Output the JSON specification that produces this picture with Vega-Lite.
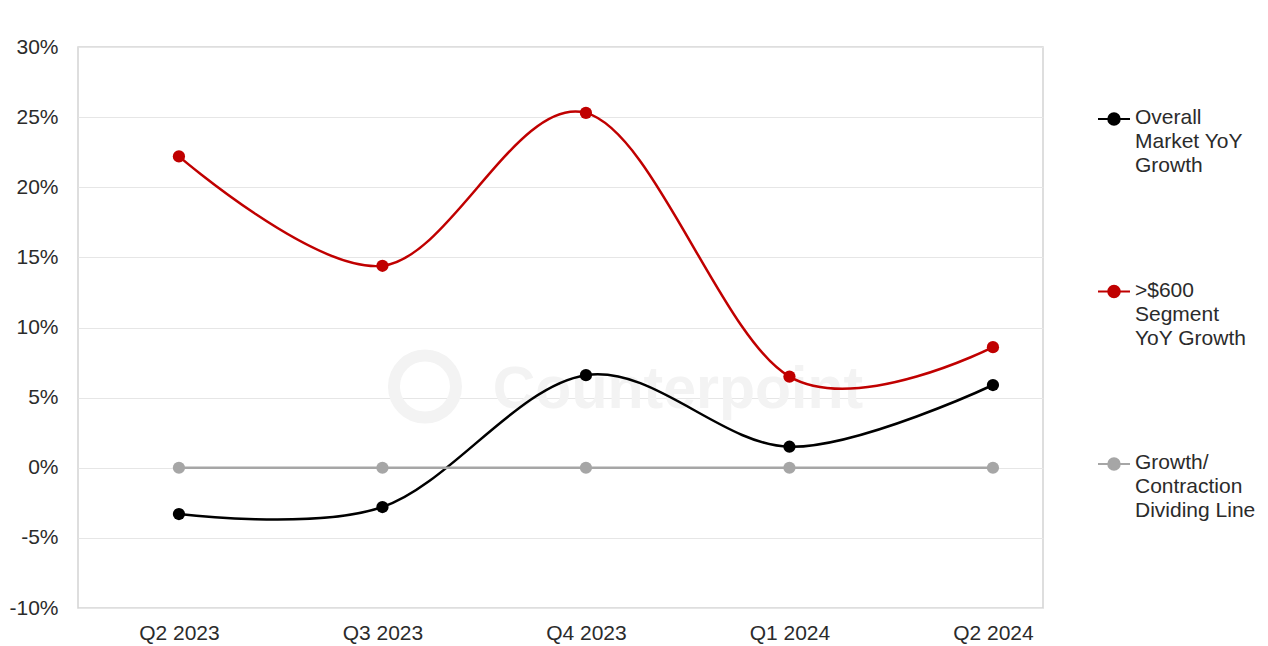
{
  "$schema": "https://vega.github.io/schema/vega-lite/v6.json",
  "width": 965,
  "height": 561,
  "autosize": "none",
  "padding": {"left": 78, "top": 47, "right": 225, "bottom": 38},
  "background": "white",
  "config": {
    "view": {"stroke": "#d4d4d4", "strokeWidth": 1.5},
    "font": "Liberation Sans"
  },
  "data": {
    "values": [
      {"series": "Overall Market YoY Growth", "quarter": 0, "value": -3.3},
      {"series": "Overall Market YoY Growth", "quarter": 1, "value": -2.8},
      {"series": "Overall Market YoY Growth", "quarter": 2, "value": 6.6},
      {"series": "Overall Market YoY Growth", "quarter": 3, "value": 1.5},
      {"series": "Overall Market YoY Growth", "quarter": 4, "value": 5.9},
      {"series": ">$600 Segment YoY Growth", "quarter": 0, "value": 22.2},
      {"series": ">$600 Segment YoY Growth", "quarter": 1, "value": 14.4},
      {"series": ">$600 Segment YoY Growth", "quarter": 2, "value": 25.3},
      {"series": ">$600 Segment YoY Growth", "quarter": 3, "value": 6.5},
      {"series": ">$600 Segment YoY Growth", "quarter": 4, "value": 8.6},
      {"series": "Growth/ Contraction Dividing Line", "quarter": 0, "value": 0},
      {"series": "Growth/ Contraction Dividing Line", "quarter": 1, "value": 0},
      {"series": "Growth/ Contraction Dividing Line", "quarter": 2, "value": 0},
      {"series": "Growth/ Contraction Dividing Line", "quarter": 3, "value": 0},
      {"series": "Growth/ Contraction Dividing Line", "quarter": 4, "value": 0}
    ]
  },
  "encoding": {
    "x": {
      "field": "quarter",
      "type": "quantitative",
      "scale": {"domain": [-0.496, 4.246], "nice": false, "zero": false},
      "axis": {
        "title": null,
        "values": [0, 1, 2, 3, 4],
        "labelExpr": "['Q2 2023', 'Q3 2023', 'Q4 2023', 'Q1 2024', 'Q2 2024'][datum.value]",
        "labelAngle": 0,
        "labelAlign": "center",
        "labelFlush": false,
        "labelOverlap": false,
        "domain": false,
        "ticks": false,
        "grid": false,
        "labelFontSize": 21,
        "labelColor": "#2b2b2b",
        "labelPadding": 14
      }
    },
    "y": {
      "field": "value",
      "type": "quantitative",
      "scale": {"domain": [-10, 30], "nice": false, "zero": false},
      "axis": {
        "title": null,
        "values": [-10, -5, 0, 5, 10, 15, 20, 25, 30],
        "labelExpr": "datum.value + '%'",
        "labelFlush": false,
        "labelOverlap": false,
        "domain": false,
        "ticks": false,
        "grid": true,
        "gridColor": "#e6e6e6",
        "gridWidth": 1.2,
        "labelFontSize": 21,
        "labelColor": "#2b2b2b",
        "labelPadding": 20
      }
    },
    "color": {
      "field": "series",
      "type": "nominal",
      "scale": {
        "domain": ["Overall Market YoY Growth", ">$600 Segment YoY Growth", "Growth/ Contraction Dividing Line"],
        "range": ["#000000", "#c00000", "#a6a6a6"]
      },
      "legend": {
        "title": null,
        "orient": "none",
        "legendX": 1019,
        "legendY": 55,
        "symbolType": "M-1,0L-0.36,0M0.36,0L1,0M-0.36,0A0.36,0.36,0,1,1,0.36,0A0.36,0.36,0,1,1,-0.36,0Z",
        "symbolSize": 1024,
        "symbolStrokeWidth": 2,
        "labelFontSize": 21,
        "labelColor": "#2b2b2b",
        "labelOffset": 4,
        "labelBaseline": "top",
        "labelLimit": 0,
        "rowPadding": 98.5,
        "labelExpr": "datum.label == 'Overall Market YoY Growth' ? ['Overall', 'Market YoY', 'Growth'] : datum.label == '>$600 Segment YoY Growth' ? ['>$600', 'Segment', 'YoY Growth'] : ['Growth/', 'Contraction', 'Dividing Line']",
        "encode": {
          "symbols": {
            "update": {
              "fill": {"scale": "color", "field": "value"},
              "stroke": {"scale": "color", "field": "value"},
              "opacity": {"value": 1}
            }
          },
          "labels": {
            "update": {"dy": {"value": -12}, "lineHeight": {"value": 24}}
          }
        }
      }
    }
  },
  "layer": [
    {
      "data": {"values": [{"wx": 1.209, "wy": 5.79}]},
      "mark": {"type": "point", "filled": false, "size": 3844, "strokeWidth": 12, "opacity": 1},
      "encoding": {
        "x": {"field": "wx", "type": "quantitative"},
        "y": {"field": "wy", "type": "quantitative"},
        "color": {"value": "#f3f3f3"}
      }
    },
    {
      "data": {"values": [{"wx": 2.452, "wy": 4.29, "label": "Counterpoint"}]},
      "mark": {"type": "text", "fontSize": 59, "fontWeight": "bold", "baseline": "alphabetic", "align": "center"},
      "encoding": {
        "x": {"field": "wx", "type": "quantitative"},
        "y": {"field": "wy", "type": "quantitative"},
        "text": {"field": "label"},
        "color": {"value": "#f3f3f3"}
      }
    },
    {"mark": {"type": "line", "interpolate": "cardinal", "strokeWidth": 2.5}},
    {"mark": {"type": "point", "filled": true, "size": 150, "opacity": 1}}
  ]
}
